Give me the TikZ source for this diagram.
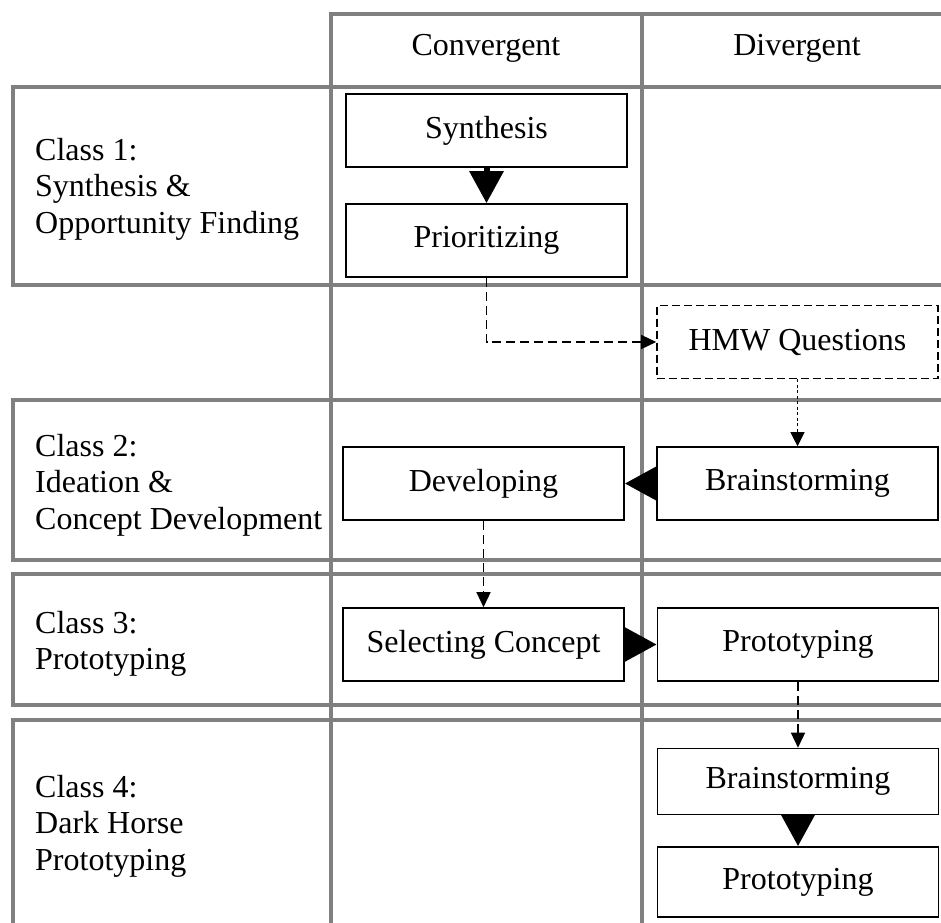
\documentclass[tikz,border=0pt]{standalone}
\usepackage{fontspec}
\setmainfont{Liberation Serif}
\usetikzlibrary{arrows.meta,positioning}
\definecolor{gridgray}{RGB}{128,128,128}

\begin{document}
\begin{tikzpicture}[x=1pt, y=-1pt,
    every node/.append style={font=\fontsize{32}{36.5}\selectfont},
    gridline/.style={draw=gridgray, line width=4.5pt},
    stage/.style={draw, line width=1.6pt, minimum width=281pt, minimum height=73pt, inner sep=0pt},
    rowlabel/.style={anchor=west, align=left, inner sep=0pt},
    bigarrow/.style={-{Triangle[length=32pt,width=33pt]}, line width=6pt},
    flow/.style={line width=1.4pt, dash pattern=on 9pt off 5pt, -{Triangle[length=15pt,width=14pt]}},
    fineflow/.style={line width=1pt, dash pattern=on 3pt off 2.5pt, -{Triangle[length=14pt,width=14pt]}}]
    \useasboundingbox (0,0) rectangle (941,922);

    % table frame
    \draw[gridline] (331,925) -- (331,14) -- (950,14);
    \draw[gridline] (642,14) -- (642,925);
    \draw[gridline] (950,87) -- (13,87) -- (13,285) -- (950,285);
    \draw[gridline] (950,400) -- (13,400) -- (13,560) -- (950,560);
    \draw[gridline] (950,574) -- (13,574) -- (13,705) -- (950,705);
    \draw[gridline] (950,720) -- (13,720) -- (13,930);

    % headers and row labels
    \node (conv) at (486,48) {Convergent};
    \node (div) at (797,48) {Divergent};
    \node[rowlabel] (class1) at (35,189) {Class 1:\\Synthesis \&\\Opportunity Finding};
    \node[rowlabel] (class2) at (35,485) {Class 2:\\Ideation \&\\Concept Development};
    \node[rowlabel] (class3) at (35,644) {Class 3:\\Prototyping};
    \node[rowlabel] (class4) at (35,826) {Class 4:\\Dark Horse\\Prototyping};

    % stages
    \node[stage] (synth) at (486.5,130.5) {Synthesis};
    \node[stage] (prio) at (486.5,240.5) {Prioritizing};
    \node[stage, dash pattern=on 8pt off 4pt] (hmw) at (797.5,342) {HMW Questions};
    \node[stage] (devel) at (483.5,483.5) {Developing};
    \node[stage] (brain) at (797.5,483.5) {Brainstorming};
    \node[stage] (select) at (483.5,644.5) {Selecting Concept};
    \node[stage] (proto) at (798,644.5) {Prototyping};
    \node[stage, minimum height=66pt] (brainB) at (798,781.5) {Brainstorming};
    \node[stage, minimum height=70pt] (protoB) at (798,882) {Prototyping};

    % connectors
    \draw[bigarrow] (synth) -- (prio);
    \draw[flow] (prio.south) |- (hmw.west);
    \draw[fineflow] (hmw) -- (brain);
    \draw[bigarrow] (brain) -- (devel);
    \draw[flow] (devel) -- (select);
    \draw[bigarrow] (select) -- (proto);
    \draw[flow] (proto) -- (brainB);
    \draw[bigarrow] (brainB) -- (protoB);
\end{tikzpicture}
\end{document}
